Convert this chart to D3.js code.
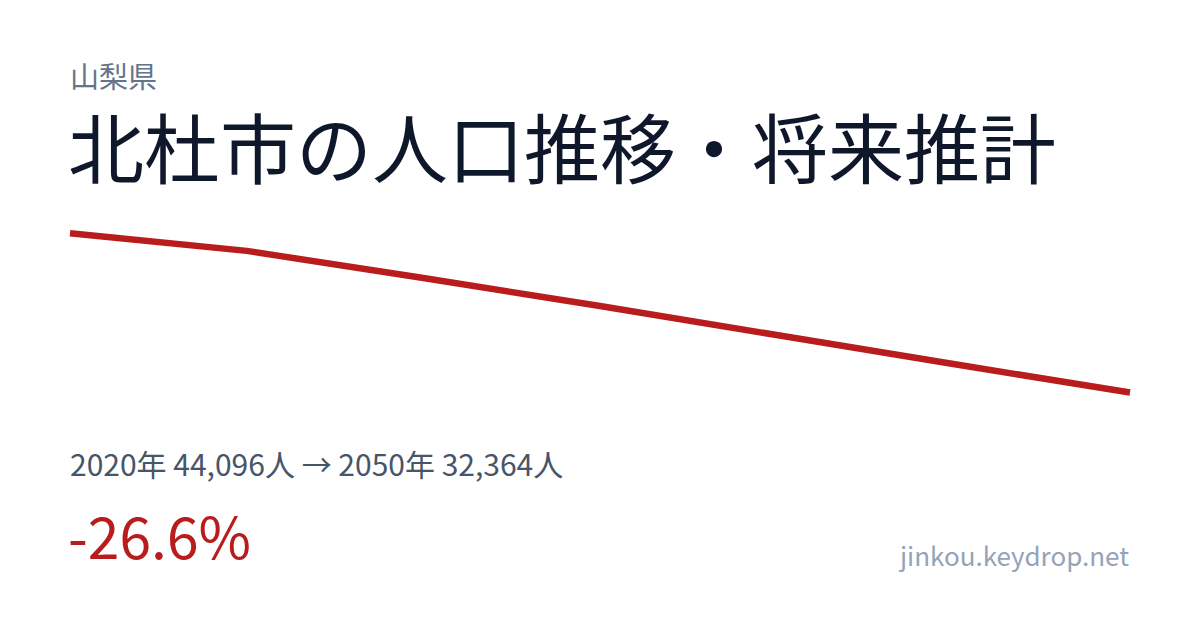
<!DOCTYPE html>
<html><head><meta charset="utf-8">
<script src="https://cdn.jsdelivr.net/npm/d3@7"></script>
<style>
html,body{margin:0;padding:0;background:#fff;}
svg{display:block;}
text{font-family:"Noto Sans CJK JP","Noto Sans",sans-serif;}
</style></head>
<body>
<svg id="c" width="1200" height="630"></svg>
<script>
const years = [2020, 2025, 2030, 2035, 2040, 2045, 2050];
const population = [44096, 42800, 40800, 38740, 36600, 34460, 32364];
const prefecture = "山梨県";
const title = "北杜市の人口推移・将来推計";
const summary = "2020年 44,096人 → 2050年 32,364人";
const change = "-26.6%";
const site = "jinkou.keydrop.net";

const svg = d3.select("#c");
svg.append("rect").attr("width",1200).attr("height",630).attr("fill","#ffffff");

svg.append("text").attr("x",70).attr("y",88).attr("font-size",29).attr("fill","#64748b").text(prefecture);
svg.append("text").attr("x",68).attr("y",178).attr("font-size",76).attr("fill","#0f172a").text(title);

const x = d3.scaleLinear().domain(d3.extent(years)).range([70,1130]);
const y = d3.scaleLinear().domain(d3.extent(population)).range([392.5,233.3]);
const line = d3.line().x((d,i)=>x(years[i])).y(d=>y(d));
svg.append("path").datum(population).attr("d",line).attr("fill","none")
  .attr("stroke","#b91c1c").attr("stroke-width",6.5).attr("stroke-linejoin","round");

svg.append("text").attr("x",70).attr("y",476).attr("font-size",30).attr("fill","#475569").text(summary);
svg.append("text").attr("x",68).attr("y",559).attr("font-size",57).attr("fill","#b91c1c").text(change);
svg.append("text").attr("x",1129).attr("y",566).attr("text-anchor","end").attr("font-size",26).attr("fill","#94a3b8").text(site);
</script>
</body></html>
